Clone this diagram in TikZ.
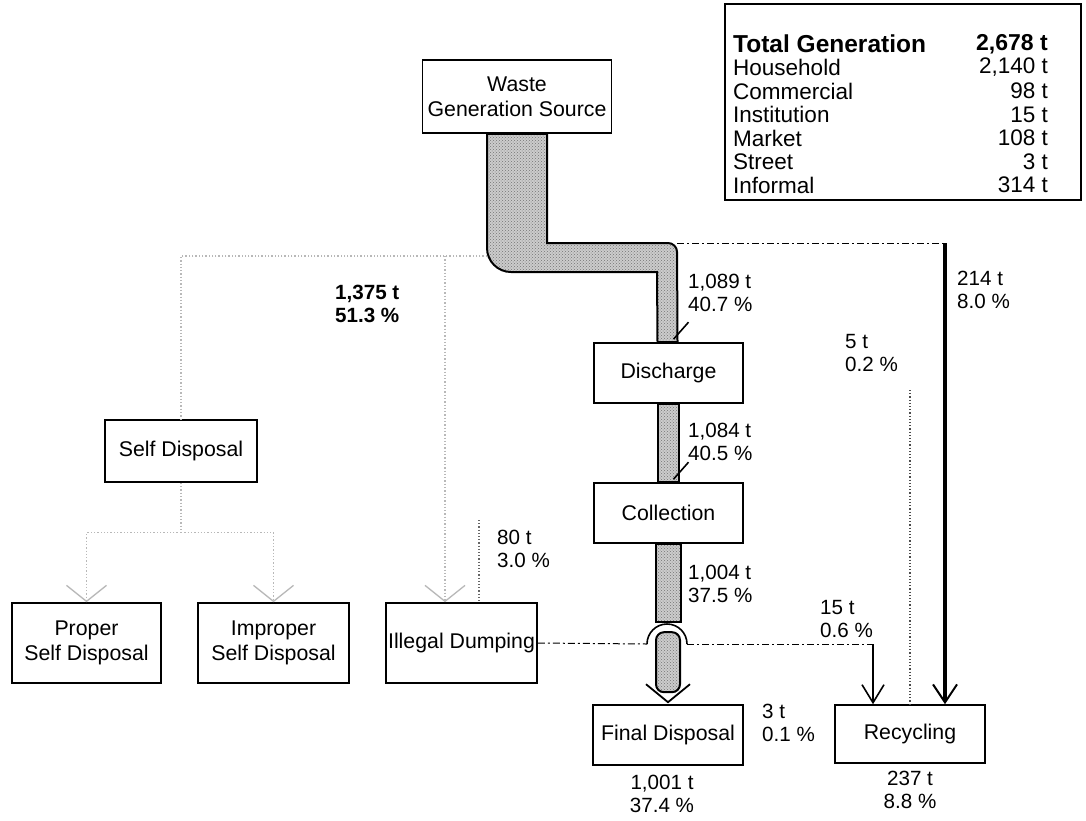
\documentclass[tikz,border=0pt]{standalone}
\usepackage{fontspec}
\setmainfont{Liberation Sans}
\usetikzlibrary{arrows.meta,calc,patterns}
\begin{document}
\begin{tikzpicture}[x=1pt,y=-1pt,
  box/.style={draw=black, line width=1.6pt, fill=white, inner sep=2pt, align=center, font=\fontsize{21.3}{25}\selectfont},
  lbl/.style={anchor=west, align=left, inner sep=0pt, font=\fontsize{20.6}{22.5}\selectfont},
  clbl/.style={anchor=center, align=center, inner sep=0pt, font=\fontsize{20.6}{22.5}\selectfont},
  sumtxt/.style={inner sep=0pt, font=\fontsize{22.5}{23}\selectfont},
  pipe/.style={draw=black, line width=2pt, preaction={fill=black!20}, pattern=crosshatch dots, pattern color=black!55},
  flowdash/.style={draw=black, line width=1pt, dash pattern=on 7pt off 3pt on 2pt off 3pt},
  faint/.style={draw=black!28, line width=1.3pt, dotted},
  vtip/.style={-{Straight Barb[length=18pt,width=22pt,line width=1.6pt]}},
  fainttip/.style={-{Straight Barb[length=16pt,width=40pt,line width=1.3pt]}}
]
\useasboundingbox (0,0) rectangle (1086,820);
\fill[white] (0,0) rectangle (1086,820);

% boxes
\node[box, minimum width=189pt, minimum height=73pt] (wgs) at (517,96.5) {Waste\\Generation Source};
\node[box, minimum width=149pt, minimum height=60pt] (dis) at (668.5,373) {Discharge};
\node[box, minimum width=149pt, minimum height=60pt] (col) at (668.5,513) {Collection};
\node[box, minimum width=150pt, minimum height=60pt] (fin) at (668,735) {Final Disposal};
\node[box, minimum width=150pt, minimum height=58pt] (rec) at (910,734) {Recycling};
\node[box, minimum width=152pt, minimum height=62pt] (self) at (181,451) {Self Disposal};
\node[box, minimum width=149pt, minimum height=80pt] (prop) at (86.5,643) {Proper\\Self Disposal};
\node[box, minimum width=151pt, minimum height=80pt] (impr) at (273.5,643) {Improper\\Self Disposal};
\node[box, minimum width=151pt, minimum height=80pt] (ill) at (461.5,643) {Illegal Dumping};

% summary table
\node[draw=black, line width=1.6pt, minimum width=356pt, minimum height=196pt, inner sep=0pt] (sum) at (903,102) {};
\node[sumtxt, anchor=west, font=\bfseries\fontsize{24.5}{24}\selectfont] (tgl) at (733,44) {Total Generation};
\node[sumtxt, anchor=east, font=\bfseries\fontsize{23}{24}\selectfont] (tgr) at (1048,44) {2,678 t};
\foreach \nm/\val/\yy [count=\i] in {Household/{2,140 t}/67.5, Commercial/98 t/91, Institution/15 t/114.5, Market/108 t/138, Street/3 t/161.5, Informal/314 t/185}{
  \node[sumtxt, anchor=west] (rl\i) at (733,\yy) {\nm};
  \node[sumtxt, anchor=east] (rr\i) at (1048,\yy) {\val};
}

% faint branches (self disposal and illegal dumping)
\coordinate (fstart) at (487,256);
\coordinate (fsd) at (181,256);
\coordinate (fill) at (445,256);
\draw[faint] (fstart) -- (fsd) -- (self.north);
\draw[faint, fainttip] (fill) -- (fill |- ill.north);
\draw[faint] (self.south) -- ++(0,50) coordinate (fsplit);
\draw[faint, fainttip] (fsplit) -| (prop.north);
\draw[faint, fainttip] (fsplit) -| (impr.north);

% 80 t
\coordinate (c80) at (479,520);
\draw[black!60, line width=1.2pt, dotted] (c80) -- (c80 |- ill.north);

% 5 t
\coordinate (c5) at (910,390);
\draw[black!70, line width=1.2pt, dotted] (c5) -- (rec.north);

% 214 t
\coordinate (pipeTR) at (677,243);
\coordinate (c214) at (945,243);
\draw[flowdash] (pipeTR) -- (c214);
\draw[line width=3.5pt, -{Straight Barb[length=18pt,width=24pt,line width=2pt]}] (c214) -- ($(rec.north)+(35,0)$);

% 15 t from illegal dumping, with a hop over the pipe
\coordinate (hopL) at (647,644);
\coordinate (hopR) at (687,644);
\coordinate (r15) at ($(rec.north)+(-37,0)$);
\draw[flowdash] (ill.east) -- (hopL);
\draw[flowdash] (hopR) -- (r15 |- hopR) coordinate (r15c);
\draw[line width=1.3pt, vtip] (r15c) -- (r15);

% main pipe
\path[pipe] ($(wgs.south)+(30,0)$) -- (547,243) [rounded corners=9pt] -- (pipeTR) [sharp corners] -- ($(dis.north)+(9,0)$) -- ($(dis.north)+(-11,0)$) -- (657,272) [rounded corners=24pt] -- (487,272) [sharp corners] -- ($(wgs.south)+(-30,0)$) -- cycle;
\draw[line width=1.6pt] ($(dis.north)+(20,-20)$) -- ($(dis.north)+(5,-3)$);

\path[pipe] ($(dis.south)+(-11,0)$) rectangle ($(col.north)+(10,0)$);
\draw[line width=1.6pt] ($(col.north)+(20,-20)$) -- ($(col.north)+(5,-3)$);

\path[pipe] ($(col.south)+(-13,0)$) rectangle ($(col.south)+(12,78)$);
\path[pipe, rounded corners=8pt] ($(fin.north)+(-12,-12)$) -- ($(fin.north)+(-12,-72)$) -- ($(fin.north)+(12,-72)$) -- ($(fin.north)+(12,-12)$) -- cycle;
\draw[line width=1.6pt] (hopL) arc[start angle=180, end angle=360, radius=20];
\draw[line width=1.8pt] ($(fin.north)+(-22,-20)$) -- ($(fin.north)+(0,-2)$) -- ($(fin.north)+(22,-20)$);

% flow labels
\node[lbl] (l1089) at (688,293) {1,089 t\\40.7 \%};
\node[lbl] (l1084) at (688,442) {1,084 t\\40.5 \%};
\node[lbl] (l1004) at (688,584) {1,004 t\\37.5 \%};
\node[lbl] (l15) at (820,619) {15 t\\0.6 \%};
\node[lbl] (l3) at (762,723) {3 t\\0.1 \%};
\node[clbl] (l1001) at (662,794) {1,001 t\\37.4 \%};
\node[clbl] (l237) at (910,790) {237 t\\8.8 \%};
\node[lbl] (l214) at (957,290) {214 t\\8.0 \%};
\node[lbl] (l5) at (845,353) {5 t\\0.2 \%};
\node[lbl, font=\bfseries\fontsize{20.6}{22.5}\selectfont] (l1375) at (335,304) {1,375 t\\51.3 \%};
\node[lbl] (l80) at (497,549) {80 t\\3.0 \%};
\end{tikzpicture}
\end{document}
